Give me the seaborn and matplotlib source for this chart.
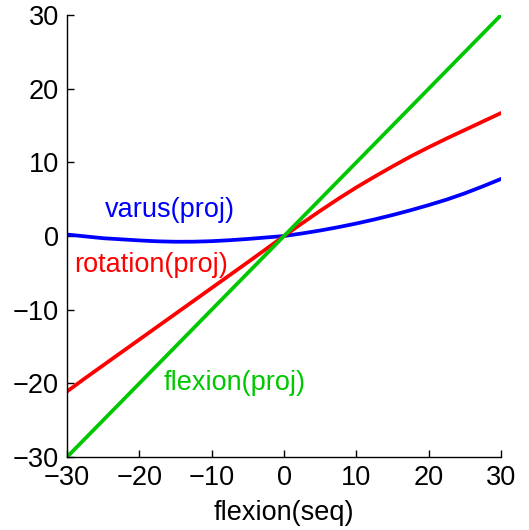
import pandas as pd
import numpy as np
import matplotlib
matplotlib.use("Agg")
import matplotlib.pyplot as plt
import seaborn as sns

# values
flexion_seq = [-30, -27.5, -25, -22.5, -20, -17.5, -15, -12.5, -10, -7.5, -5, -2.5, 0,
               2.5, 5, 7.5, 10, 12.5, 15, 17.5, 20, 22.5, 25, 27.5, 30]
flexion_proj = list(flexion_seq)
rotation_proj = [-21.1, -19.3, -17.55, -15.8, -14.05, -12.3, -10.55, -8.8, -7.05, -5.3, -3.55, -1.78, 0,
                 1.73, 3.42, 5.05, 6.6, 8.05, 9.45, 10.8, 12.05, 13.25, 14.4, 15.55, 16.7]
varus_proj = [0.2, -0.05, -0.3, -0.45, -0.6, -0.72, -0.78, -0.77, -0.7, -0.57, -0.4, -0.2, 0,
              0.35, 0.75, 1.2, 1.7, 2.25, 2.85, 3.5, 4.2, 4.95, 5.8, 6.75, 7.75]

data = pd.DataFrame({"seq": flexion_seq, "flexion": flexion_proj,
                     "rotation": rotation_proj, "varus": varus_proj})

sns.set_style("ticks")
plt.rcParams['font.family'] = ['Liberation Sans', 'DejaVu Sans']
plt.rcParams['text.color'] = 'black'
plt.rcParams['xtick.color'] = 'black'
plt.rcParams['ytick.color'] = 'black'
plt.rcParams['axes.labelcolor'] = 'black'
plt.rcParams['axes.edgecolor'] = 'black'

fig = plt.figure(figsize=(5.29, 5.30), dpi=100)
ax = fig.add_axes([0.1267, 0.1377, 0.8205, 0.834])

green = "#00c800"
sns.lineplot(x="seq", y="varus", data=data, color="blue", linewidth=2.7, ax=ax)
sns.lineplot(x="seq", y="rotation", data=data, color="red", linewidth=2.7, ax=ax)
sns.lineplot(x="seq", y="flexion", data=data, color=green, linewidth=2.7, ax=ax)

# curve labels placed next to the lines
ax.text(-24.7, 3.5, "varus(proj)", color="blue", fontsize=19.5, va="center")
ax.text(-29.0, -3.9, "rotation(proj)", color="red", fontsize=19.5, va="center")
ax.text(-16.7, -19.9, "flexion(proj)", color=green, fontsize=19.5, va="center")

ax.set_xlim(-30, 30)
ax.set_ylim(-30, 30)
ax.set_xticks([-30, -20, -10, 0, 10, 20, 30])
ax.set_yticks([-30, -20, -10, 0, 10, 20, 30])
ax.tick_params(direction="in", length=5, width=1, labelsize=19.5, pad=6)
ax.set_xlabel("flexion(seq)", fontsize=19.5, labelpad=6)
ax.set_ylabel("")
sns.despine(ax=ax)
for s in ["left", "bottom"]:
    ax.spines[s].set_linewidth(1)

plt.savefig("out.png", dpi=100)
